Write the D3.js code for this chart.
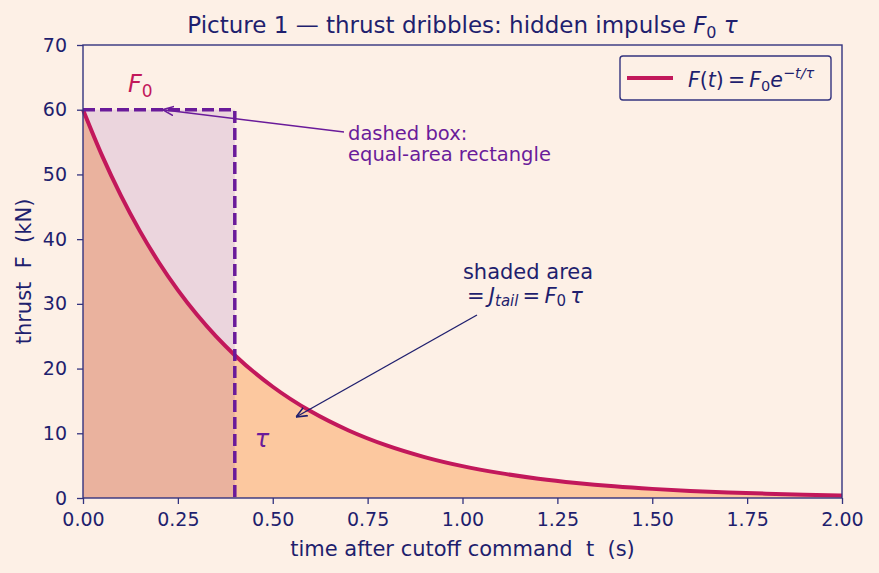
<!DOCTYPE html>
<html>
<head>
<meta charset="utf-8">
<script src="https://cdn.jsdelivr.net/npm/d3@7"></script>
<style>
  body { margin: 0; background: #fdf0e6; }
  svg { font-family: "DejaVu Sans", sans-serif; }
</style>
</head>
<body>
<div class="chart"></div>
<script>
// thrust samples (s, kN)
const times = [0, 0.05, 0.1, 0.15, 0.2, 0.25, 0.3, 0.35, 0.4, 0.5, 0.6, 0.7, 0.8, 0.9, 1.0,
               1.1, 1.2, 1.3, 1.4, 1.5, 1.6, 1.7, 1.8, 1.9, 2.0]
const thrust = [60, 52.95, 46.73, 41.24, 36.39, 32.12, 28.34, 25.01, 22.07, 17.19, 13.39, 10.43,
                8.12, 6.32, 4.92, 3.84, 2.99, 2.33, 1.81, 1.41, 1.10, 0.86, 0.67, 0.52, 0.40]
const F0 = 60
const tau = 0.4
const xTicks = [0, 0.25, 0.5, 0.75, 1.0, 1.25, 1.5, 1.75, 2.0]
const yTicks = [0, 10, 20, 30, 40, 50, 60, 70]

const width = 879, height = 573
const margin = { top: 45, right: 37, bottom: 75, left: 83 }
const navy = '#1f1f6e'
const crimson = '#c2185b'
const purple = '#6a1b9a'
const thin = '\u2009'

const data = times.map((t, i) => ({ t: t, f: thrust[i] }))

const svg = d3.select('.chart').append('svg')
    .attr('width', width)
    .attr('height', height)

svg.append('rect').attr('width', width).attr('height', height).attr('fill', '#fdf0e6')

const x = d3.scaleLinear().domain([0, 2]).range([margin.left, width - margin.right])
const y = d3.scaleLinear().domain([0, 70]).range([height - margin.bottom, margin.top])

const defs = svg.append('defs')
const mk = (id, col) => defs.append('marker')
    .attr('id', id).attr('viewBox', '0 0 10 10').attr('refX', 10).attr('refY', 5)
    .attr('markerWidth', 11).attr('markerHeight', 11).attr('markerUnits', 'userSpaceOnUse')
    .attr('orient', 'auto')
    .append('path').attr('d', 'M0,0.8 L10,5 L0,9.2').attr('fill', 'none')
    .attr('stroke', col).attr('stroke-width', 1.4)
mk('arrP', purple)
mk('arrN', navy)

const area = d3.area().x(d => x(d.t)).y0(y(0)).y1(d => y(d.f)).curve(d3.curveMonotoneX)
const line = d3.line().x(d => x(d.t)).y(d => y(d.f)).curve(d3.curveMonotoneX)

svg.append('path').datum(data).attr('d', area).attr('fill', '#fcc89f')

// equal-area rectangle
svg.append('rect')
    .attr('x', x(0)).attr('y', y(F0))
    .attr('width', x(tau) - x(0)).attr('height', y(0) - y(F0))
    .attr('fill', purple).attr('fill-opacity', 0.12)

svg.append('path').datum(data).attr('d', line)
    .attr('fill', 'none').attr('stroke', crimson).attr('stroke-width', 4)

svg.append('path')
    .attr('d', `M${x(0)},${y(F0)} H${x(tau)} V${y(0)}`)
    .attr('fill', 'none').attr('stroke', purple).attr('stroke-width', 3.5)
    .attr('stroke-dasharray', '12,5')

// axes
const xAxis = svg.append('g').attr('transform', `translate(0,${y(0)})`)
    .call(d3.axisBottom(x).tickValues(xTicks).tickFormat(d3.format('.2f'))
        .tickSizeOuter(0).tickSize(6).tickPadding(9))
const yAxis = svg.append('g').attr('transform', `translate(${x(0)},0)`)
    .call(d3.axisLeft(y).tickValues(yTicks).tickSizeOuter(0).tickSize(6).tickPadding(10))
;[xAxis, yAxis].forEach(g => {
    g.select('.domain').remove()
    g.selectAll('line').attr('stroke', '#33337f').attr('stroke-width', 1.3)
    g.selectAll('text').attr('fill', navy).attr('font-size', 19)
        .attr('font-family', '"DejaVu Sans", sans-serif')
})

svg.append('rect')
    .attr('x', x(0)).attr('y', y(70))
    .attr('width', x(2) - x(0)).attr('height', y(0) - y(70))
    .attr('fill', 'none').attr('stroke', '#33337f').attr('stroke-width', 1.4)

// labels
svg.append('text').attr('x', (x(0) + x(2)) / 2).attr('y', 556)
    .attr('text-anchor', 'middle').attr('fill', navy).attr('font-size', 21)
    .attr('xml:space', 'preserve')
    .text('time after cutoff command  t  (s)')
svg.append('text').attr('transform', `translate(31,${(y(0) + y(70)) / 2}) rotate(-90)`)
    .attr('text-anchor', 'middle').attr('fill', navy).attr('font-size', 21)
    .attr('xml:space', 'preserve')
    .text('thrust  F  (kN)')

const title = svg.append('text').attr('x', (x(0) + x(2)) / 2).attr('y', 33)
    .attr('text-anchor', 'middle').attr('fill', navy).attr('font-size', 23)
title.append('tspan').text('Picture 1 — thrust dribbles: hidden impulse ')
title.append('tspan').attr('font-style', 'italic').text('F')
title.append('tspan').attr('font-size', 16).attr('dy', 5).text('0')
title.append('tspan').attr('font-style', 'italic').attr('dy', -5).text(' τ')

// legend
svg.append('rect').attr('x', 620).attr('y', 56).attr('width', 211).attr('height', 44)
    .attr('rx', 3).attr('fill', '#fdf0e6').attr('stroke', '#33337f').attr('stroke-width', 1.4)
svg.append('line').attr('x1', 627).attr('x2', 673).attr('y1', 78).attr('y2', 78)
    .attr('stroke', crimson).attr('stroke-width', 4)
const lg = svg.append('text').attr('x', 688).attr('y', 87).attr('fill', navy).attr('font-size', 20.5)
lg.append('tspan').attr('font-style', 'italic').text('F')
lg.append('tspan').text('(')
lg.append('tspan').attr('font-style', 'italic').text('t')
lg.append('tspan').text(')' + thin + '=' + thin)
lg.append('tspan').attr('font-style', 'italic').text('F')
lg.append('tspan').attr('font-size', 14.5).attr('dy', 4).text('0')
lg.append('tspan').attr('font-style', 'italic').attr('dy', -4).text('e')
lg.append('tspan').attr('font-style', 'italic').attr('font-size', 14.5).attr('dy', -9).text('−t/τ')

// annotations
const f0 = svg.append('text').attr('x', 128).attr('y', 92).attr('fill', crimson).attr('font-size', 24)
f0.append('tspan').attr('font-style', 'italic').text('F')
f0.append('tspan').attr('font-size', 17).attr('dy', 5).text('0')

svg.append('line').attr('x1', 344).attr('y1', 132).attr('x2', x(0.21)).attr('y2', y(F0))
    .attr('stroke', purple).attr('stroke-width', 1.4).attr('marker-end', 'url(#arrP)')
svg.append('text').attr('x', 348).attr('y', 140).attr('fill', purple).attr('font-size', 19.5)
    .text('dashed box:')
svg.append('text').attr('x', 348).attr('y', 161).attr('fill', purple).attr('font-size', 19.5)
    .text('equal-area rectangle')

svg.append('text').attr('x', x(tau) + 20).attr('y', 447).attr('fill', purple)
    .attr('font-size', 24).attr('font-style', 'italic').text('τ')

svg.append('text').attr('x', 528).attr('y', 279).attr('text-anchor', 'middle')
    .attr('fill', navy).attr('font-size', 21).text('shaded area')
const ja = svg.append('text').attr('x', 467).attr('y', 303).attr('fill', navy).attr('font-size', 21)
ja.append('tspan').text('=' + thin)
ja.append('tspan').attr('font-style', 'italic').text('J')
ja.append('tspan').attr('font-style', 'italic').attr('font-size', 15).attr('dy', 3).text('tail')
ja.append('tspan').attr('dy', -3).text(thin + '=' + thin)
ja.append('tspan').attr('font-style', 'italic').text('F')
ja.append('tspan').attr('font-size', 15).attr('dy', 3).text('0')
ja.append('tspan').attr('font-style', 'italic').attr('dy', -3).text(thin + 'τ')

svg.append('line').attr('x1', 477).attr('y1', 315).attr('x2', 296).attr('y2', 417)
    .attr('stroke', navy).attr('stroke-width', 1.4).attr('marker-end', 'url(#arrN)')
</script>
</body>
</html>
